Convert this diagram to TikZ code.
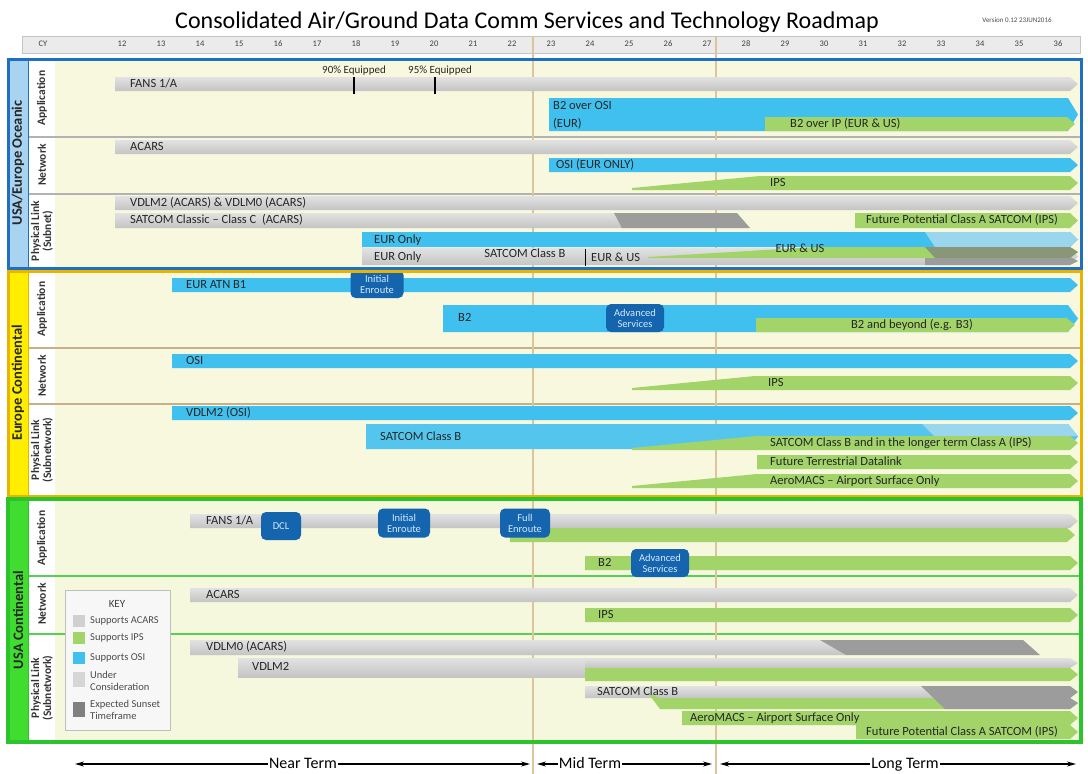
\documentclass[tikz,border=0pt]{standalone}
\usepackage{fontspec}
\setmainfont{Carlito}
\usetikzlibrary{arrows.meta}

\definecolor{grayTop}{HTML}{E2E2E2}
\definecolor{grayBot}{HTML}{C4C4C4}
\definecolor{blueBar}{HTML}{40C0EE}
\definecolor{blueSoft}{HTML}{54C6EE}
\definecolor{blueLight}{HTML}{9AD6EE}
\definecolor{greenBar}{HTML}{A2D46A}
\definecolor{sunset}{HTML}{9C9C9C}
\definecolor{sunsetGreen}{HTML}{8A9678}
\definecolor{msBlue}{HTML}{1464AE}
\definecolor{msText}{HTML}{D6EAFA}
\definecolor{labelText}{HTML}{262626}
\definecolor{panelFill}{HTML}{F8F8DE}
\definecolor{panelFillG}{HTML}{F5F8DC}
\definecolor{oceanBorder}{HTML}{1F6FC2}
\definecolor{oceanStrip}{HTML}{A8D4F2}
\definecolor{euroBorder}{HTML}{E8B400}
\definecolor{euroStrip}{HTML}{FFEE00}
\definecolor{usaBorder}{HTML}{2CC42C}
\definecolor{usaStrip}{HTML}{40DD30}
\definecolor{guideTan}{HTML}{DCC49C}
\definecolor{stripGray}{HTML}{EBEBEB}
\definecolor{stripLine}{HTML}{C4C4C4}

% bar with a pointed end: [tip] style, x1, x2, ytop, ybot
\newcommand\tipbar[6][8]{%
  \path[#2] (#3,#5) -- ({#4-#1},#5) -- (#4,{(#5+#6)/2}) -- ({#4-#1},#6) -- (#3,#6) -- cycle;}
% bar that fades in from a thin edge: [tip] style, xstart, xfull, xend, ytop, ybot
\newcommand\wedgebar[7][8]{%
  \path[#2] (#3,{#7-2}) -- (#4,#6) -- ({#5-#1},#6) -- (#5,{(#6+#7)/2}) -- ({#5-#1},#7) -- (#3,#7) -- cycle;}

\begin{document}
\begin{tikzpicture}[x=1pt,y=-1pt,
  gbar/.style={top color=grayTop,bottom color=grayBot},
  bbar/.style={fill=blueBar},
  bsoft/.style={fill=blueSoft},
  blight/.style={fill=blueLight},
  ebar/.style={fill=greenBar},
  sbar/.style={fill=sunset},
  sgbar/.style={fill=sunsetGreen},
  lbl/.style={anchor=west,inner sep=0pt,text=labelText,text height=8.5pt,text depth=2.5pt,
    font=\fontsize{12.5}{13}\selectfont},
  clbl/.style={lbl,anchor=center},
  note/.style={anchor=center,inner sep=0pt,text=labelText,font=\fontsize{11}{12}\selectfont},
  milestone/.style={rounded corners=5pt,fill=msBlue,text=msText,align=center,inner sep=0pt,
    font=\fontsize{10.5}{11}\selectfont},
  yearlbl/.style={font=\fontsize{8.5}{9}\selectfont,text=black!75,inner sep=0pt},
  sectlbl/.style={rotate=90,font=\bfseries\fontsize{14.5}{15}\selectfont,text=black!85,inner sep=0pt},
  rowlbl/.style={rotate=90,align=center,font=\bfseries\fontsize{11.5}{12}\selectfont,text=black!80,inner sep=0pt},
  keytxt/.style={anchor=west,inner sep=0pt,align=left,font=\fontsize{10.5}{11.5}\selectfont,text=black!70},
  guide/.style={draw=guideTan,line width=2pt},
  termarrow/.style={{Stealth[length=9pt,width=5pt]}-{Stealth[length=9pt,width=5pt]},line width=1.2pt},
  termlbl/.style={fill=white,inner sep=1pt,text height=11pt,text depth=3pt,font=\fontsize{16}{17}\selectfont},
  divO/.style={draw=black!30,line width=2pt},
  divE/.style={draw=guideTan!90!black,line width=1.6pt},
  divU/.style={draw=usaBorder!80,line width=1.6pt}
]
\useasboundingbox (0,0) rectangle (1088,774);
\fill[white] (0,0) rectangle (1088,774);

% ---------- heading ----------
\node (title) at (527,22) {\fontsize{24}{26}\selectfont Consolidated Air/Ground Data Comm Services and Technology Roadmap};
\node[font=\fontsize{7}{8}\selectfont,text=black!70] (version) at (1017,20) {Version 0.12 23JUN2016};

\path[fill=stripGray,draw=stripLine] (22,36) rectangle (1080,53);
\node[yearlbl] (cy) at (43,44) {CY};
\foreach \yr [count=\i from 0] in {12,...,36}
  \node[yearlbl] (yr\yr) at ({122+\i*39},44) {\yr};

% ---------- section frames (fills) ----------
\fill[panelFill] (28,59) rectangle (1080,268);
\fill[white] (28,59) rectangle (55,268);
\fill[oceanStrip] (8,59) rectangle (28,268);

\fill[panelFill] (28,271) rectangle (1080,496);
\fill[white] (28,271) rectangle (55,496);
\fill[euroStrip] (8,271) rectangle (28,496);

\fill[panelFillG] (28,499) rectangle (1080,742);
\fill[white] (28,499) rectangle (55,742);
\fill[usaStrip] (8,499) rectangle (28,742);

% row dividers
\draw[divO] (28,137) -- (1080,137);
\draw[divO] (28,194) -- (1080,194);
\draw[divE] (28,348) -- (1080,348);
\draw[divE] (28,404) -- (1080,404);
\draw[divU] (28,576) -- (1080,576);
\draw[divU] (28,634) -- (1080,634);

% term boundaries
\draw[guide] (533,36) -- (533,774);
\draw[guide] (716,36) -- (716,774);

% ---------- USA/Europe Oceanic ----------
\tipbar{gbar}{115}{1078}{77}{91}
\node[lbl] (o-fans) at (130,84) {FANS 1/A};
\draw[line width=1.2pt] (354,77) -- (354,94);
\draw[line width=1.2pt] (435,77) -- (435,94);
\node[note] (o-90) at (354,71) {90\% Equipped};
\node[note] (o-95) at (440,71) {95\% Equipped};

\tipbar[10]{bbar}{549}{1078}{98}{131}
\tipbar{ebar}{765}{1075}{117}{131}
\node[lbl] (o-b2osi) at (553,106) {B2 over OSI};
\node[lbl] (o-eur) at (553,124) {(EUR)};
\node[lbl] (o-b2ip) at (790,124) {B2 over IP (EUR \& US)};

\tipbar{gbar}{115}{1078}{140}{154}
\node[lbl] (o-acars) at (130,147) {ACARS};
\tipbar{bbar}{549}{1078}{158}{172}
\node[lbl] (o-osi) at (556,165) {OSI (EUR ONLY)};
\wedgebar{ebar}{632}{760}{1078}{176}{190}
\node[lbl] (o-ips) at (770,183) {IPS};

\tipbar{gbar}{115}{1078}{196}{210}
\node[lbl] (o-vdl) at (130,203) {VDLM2 (ACARS) \& VDLM0 (ACARS)};
\path[gbar] (115,213) -- (618,213) -- (626,228) -- (115,228) -- cycle;
\path[sbar] (614,213) -- (737,213) -- (750,228) -- (622,228) -- cycle;
\node[lbl] (o-satc) at (130,220) {SATCOM Classic -- Class C\ \ (ACARS)};
\tipbar{ebar}{855}{1078}{213}{228}
\node[lbl] (o-fut) at (866,220) {Future Potential Class A SATCOM (IPS)};

\tipbar{bbar}{362}{1078}{232}{247}
\path[blight] (925,232) -- (1070,232) -- (1078,239.5) -- (1070,247) -- (935,247) -- cycle;
\tipbar{gbar}{362}{1078}{248}{265}
\path[sbar] (925,257) -- (1070,257) -- (1078,261) -- (1070,265) -- (925,265) -- cycle;
\path[ebar] (648,257) -- (815,247) -- (1070,247) -- (1078,252) -- (1070,258) -- (648,258) -- cycle;
\path[sgbar] (925,247) -- (1070,247) -- (1078,252) -- (1070,258) -- (935,258) -- cycle;
\node[lbl] (o-eur1) at (374,240) {EUR Only};
\node[lbl] (o-eur2) at (374,257) {EUR Only};
\node[clbl] (o-satb) at (525,254) {SATCOM Class B};
\draw[line width=1pt] (585,249) -- (585,266);
\node[lbl] (o-eurus1) at (591,258) {EUR \& US};
\node[clbl] (o-eurus2) at (800,249) {EUR \& US};

% ---------- Europe Continental ----------
\tipbar{bbar}{172}{1078}{278}{292}
\node[lbl] (e-atn) at (186,285) {EUR ATN B1};
\node[milestone,minimum width=53pt,minimum height=28pt] (e-ie) at (377,284) {Initial\\Enroute};

\tipbar[10]{bbar}{443}{1078}{305}{332}
\tipbar{ebar}{756}{1075}{318}{332}
\node[lbl] (e-b2) at (458,318) {B2};
\node[clbl] (e-b3) at (912,325) {B2 and beyond (e.g. B3)};
\node[milestone,minimum width=58pt,minimum height=28pt] (e-as) at (635,318) {Advanced\\Services};

\tipbar{bbar}{172}{1078}{354}{368}
\node[lbl] (e-osi) at (186,361) {OSI};
\wedgebar{ebar}{632}{755}{1078}{376}{390}
\node[lbl] (e-ips) at (768,383) {IPS};

\tipbar{bbar}{172}{1078}{406}{420}
\node[lbl] (e-vdl) at (186,413) {VDLM2 (OSI)};
\tipbar[10]{bsoft}{366}{1078}{424}{449}
\path[blight] (922,424) -- (1068,424) -- (1078,436) -- (934,436) -- cycle;
\wedgebar{ebar}{632}{757}{1078}{436}{450}
\node[lbl] (e-satb) at (380,437) {SATCOM Class B};
\node[lbl] (e-satlong) at (770,443) {SATCOM Class B and in the longer term Class A (IPS)};
\tipbar{ebar}{757}{1078}{455}{469}
\node[lbl] (e-ftd) at (770,462) {Future Terrestrial Datalink};
\wedgebar{ebar}{632}{757}{1078}{474}{488}
\node[lbl] (e-aero) at (770,481) {AeroMACS -- Airport Surface Only};

% ---------- USA Continental ----------
\tipbar{gbar}{190}{1078}{514}{528}
\tipbar{ebar}{510}{1075}{528}{542}
\node[lbl] (u-fans) at (206,521) {FANS 1/A};
\node[milestone,minimum width=40pt,minimum height=28pt] (u-dcl) at (281,526) {DCL};
\node[milestone,minimum width=52pt,minimum height=29pt] (u-ie) at (404,523) {Initial\\Enroute};
\node[milestone,minimum width=50pt,minimum height=29pt] (u-fe) at (525,523) {Full\\Enroute};

\tipbar{ebar}{585}{1078}{556}{570}
\node[lbl] (u-b2) at (598,563) {B2};
\node[milestone,minimum width=58pt,minimum height=28pt] (u-as) at (660,563) {Advanced\\Services};

\tipbar{gbar}{190}{1078}{588}{602}
\node[lbl] (u-acars) at (206,595) {ACARS};
\tipbar{ebar}{585}{1078}{608}{622}
\node[lbl] (u-ips) at (598,615) {IPS};

\path[gbar] (190,640) -- (822,640) -- (846,655) -- (190,655) -- cycle;
\path[sbar] (820,640) -- (1023,640) -- (1040,655) -- (846,655) -- cycle;
\node[lbl] (u-vdl0) at (206,647) {VDLM0 (ACARS)};
\path[gbar] (238,658) rectangle (590,677);
\tipbar{gbar}{585}{1078}{658}{668}
\tipbar{ebar}{585}{1078}{668}{681}
\node[lbl] (u-vdl2) at (252,667) {VDLM2};

\tipbar{gbar}{585}{1078}{686}{698}
\path[ebar] (648,693) -- (660,698) -- (1070,698) -- (1078,703) -- (1070,709) -- (660,709) -- cycle;
\path[sbar] (921,686) -- (1070,686) -- (1078,692) -- (1070,698) -- (1078,703) -- (1070,709) -- (945,709) -- cycle;
\node[lbl] (u-satb) at (597,692) {SATCOM Class B};
\tipbar{ebar}{682}{1078}{711}{725}
\node[lbl] (u-aero) at (690,718) {AeroMACS -- Airport Surface Only};
\tipbar{ebar}{856}{1078}{725}{739}
\node[lbl] (u-fut) at (866,732) {Future Potential Class A SATCOM (IPS)};

% ---------- key ----------
\path[fill=white!97!black,draw=black!25] (65,590) rectangle (170,730);
\node[font=\fontsize{11}{12}\selectfont,text=black!75] (key) at (117,604) {KEY};
\path[fill=grayBot!80] (73,615) rectangle (85,627);
\node[keytxt] (k-acars) at (90,621) {Supports ACARS};
\path[ebar] (73,632) rectangle (85,644);
\node[keytxt] (k-ips) at (90,638) {Supports IPS};
\path[bbar] (73,652) rectangle (85,664);
\node[keytxt] (k-osi) at (90,658) {Supports OSI};
\path[fill=grayBot!70] (73,672) rectangle (85,687);
\node[keytxt] (k-uc) at (90,681) {Under\\Consideration};
\path[fill=black!50] (73,702) rectangle (85,717);
\node[keytxt] (k-sun) at (90,710) {Expected Sunset\\Timeframe};

% ---------- section labels and borders ----------
\node[sectlbl] (s-oc) at (18,163) {USA/Europe Oceanic};
\node[rowlbl] (r-oa) at (42,98) {Application};
\node[rowlbl] (r-on) at (42,165) {Network};
\node[rowlbl] (r-op) at (42,231) {Physical Link\\(Subnet)};

\node[sectlbl] (s-eu) at (18,383) {Europe Continental};
\node[rowlbl] (r-ea) at (42,309) {Application};
\node[rowlbl] (r-en) at (42,376) {Network};
\node[rowlbl] (r-ep) at (42,450) {Physical Link\\(Subnetwork)};

\node[sectlbl] (s-us) at (18,620) {USA Continental};
\node[rowlbl] (r-ua) at (42,538) {Application};
\node[rowlbl] (r-un) at (42,604) {Network};
\node[rowlbl] (r-up) at (42,688) {Physical Link\\(Subnetwork)};

\draw[oceanBorder,line width=1pt] (28,59) -- (28,268);
\draw[euroBorder,line width=1pt] (28,271) -- (28,496);
\draw[usaBorder,line width=1pt] (28,499) -- (28,742);
\draw[oceanBorder,line width=3pt] (8,59) rectangle (1081,268);
\draw[euroBorder,line width=3pt] (8,271) rectangle (1081,496);
\draw[usaBorder,line width=3.5pt] (8,499) rectangle (1081,742);

% ---------- planning horizons ----------
\coordinate (nt-l) at (75,764);
\coordinate (nt-r) at (530,764);
\coordinate (mt-l) at (537,764);
\coordinate (mt-r) at (712,764);
\coordinate (lt-l) at (720,764);
\coordinate (lt-r) at (1076,764);
\draw[termarrow] (nt-l) -- (nt-r);
\draw[termarrow] (mt-l) -- (mt-r);
\draw[termarrow] (lt-l) -- (lt-r);
\node[termlbl] (near) at (303,764) {Near Term};
\node[termlbl] (mid) at (590,764) {Mid Term};
\node[termlbl] (long) at (905,764) {Long Term};
\end{tikzpicture}
\end{document}
